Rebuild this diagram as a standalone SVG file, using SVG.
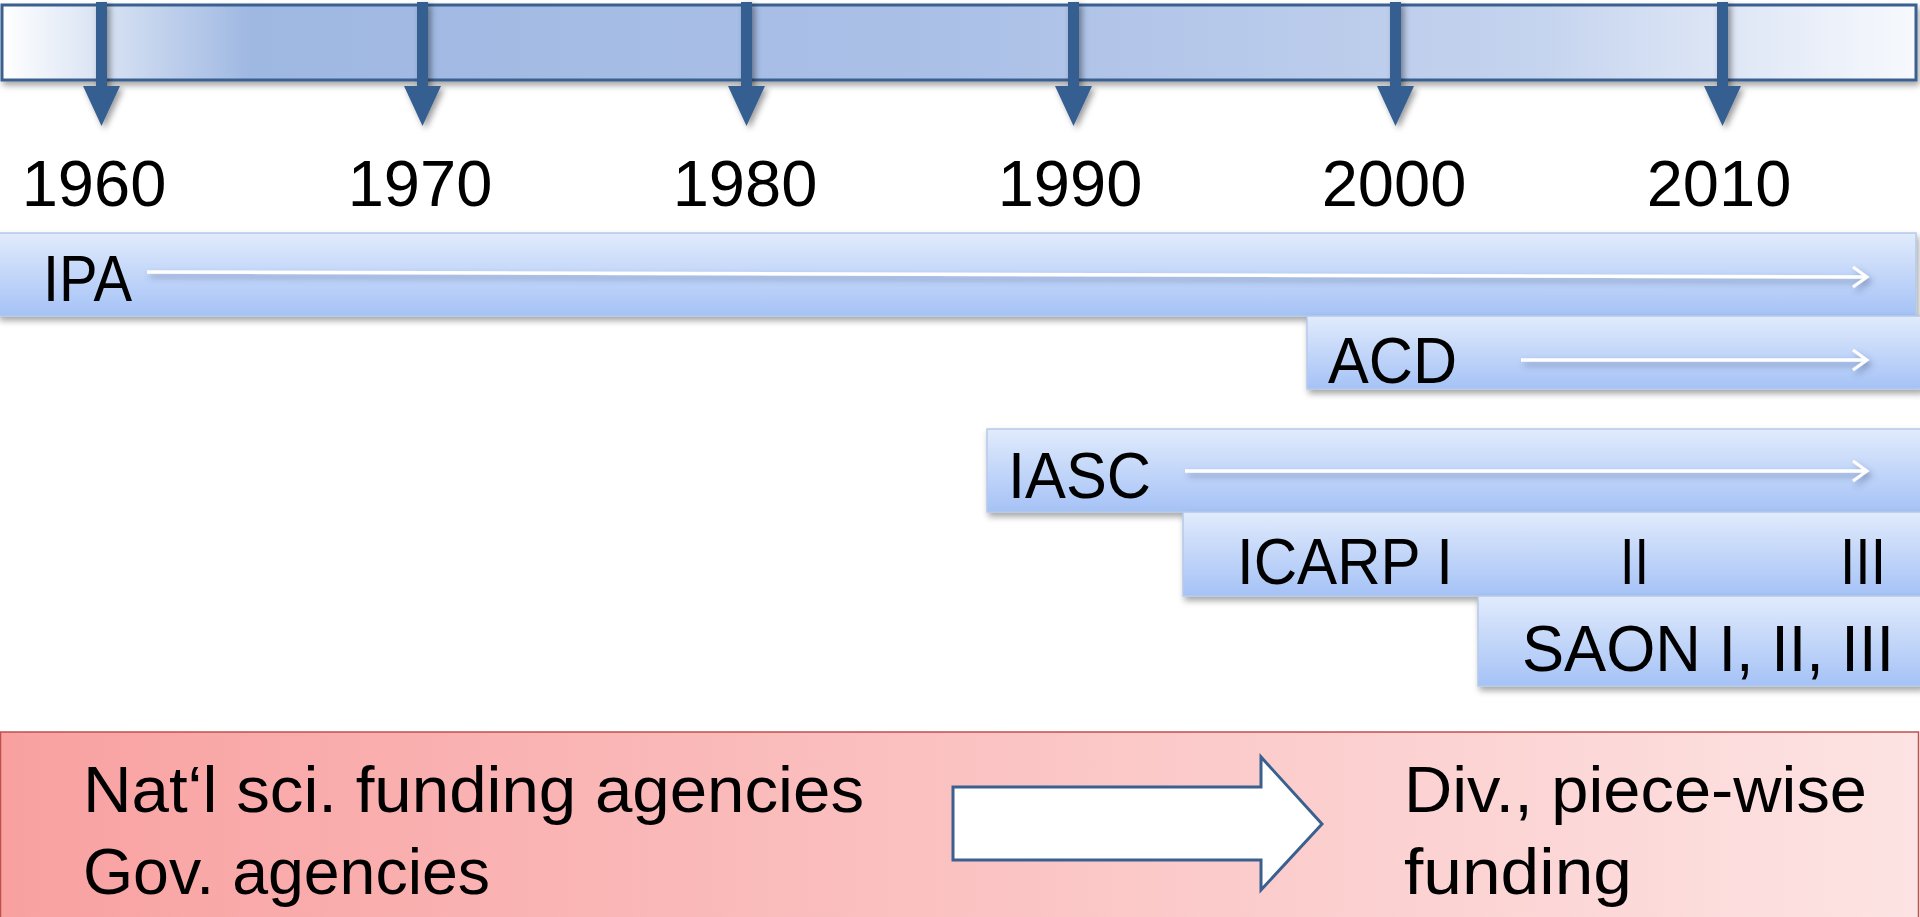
<svg xmlns="http://www.w3.org/2000/svg" width="1920" height="917" viewBox="0 0 1920 917">
<defs>
<linearGradient id="topg" x1="0" y1="0" x2="1" y2="0">
<stop offset="0" stop-color="#FFFFFF"/>
<stop offset="0.13" stop-color="#9FB8E2"/>
<stop offset="0.5" stop-color="#ABC0E7"/>
<stop offset="0.8" stop-color="#C4D3EE"/>
<stop offset="1" stop-color="#F7F9FD"/>
</linearGradient>
<linearGradient id="barg" x1="0" y1="0" x2="0" y2="1">
<stop offset="0" stop-color="#E1EBFC"/>
<stop offset="1" stop-color="#A5C2F6"/>
</linearGradient>
<linearGradient id="redg" x1="0" y1="0" x2="1" y2="0">
<stop offset="0" stop-color="#F9A1A1"/>
<stop offset="1" stop-color="#FDE3E3"/>
</linearGradient>
<filter id="sh" x="-5%" y="-20%" width="110%" height="150%">
<feDropShadow dx="2" dy="4" stdDeviation="3" flood-color="#000" flood-opacity="0.35"/>
</filter>
<filter id="ash" x="-50%" y="-20%" width="200%" height="150%">
<feDropShadow dx="3" dy="3" stdDeviation="3" flood-color="#000" flood-opacity="0.4"/>
</filter>
<filter id="lsh" filterUnits="userSpaceOnUse" x="0" y="0" width="1920" height="917">
<feDropShadow dx="3" dy="4" stdDeviation="3" flood-color="#3A4F7A" flood-opacity="0.45"/>
</filter>
<marker id="chev" markerWidth="20" markerHeight="24" refX="17" refY="12" orient="auto" markerUnits="userSpaceOnUse" viewBox="0 0 20 24">
<path d="M3,2 L17,12 L3,22" fill="none" stroke="#FFFFFF" stroke-width="3"/>
</marker>
<style>
.bar{fill:url(#barg);stroke:#B5C9E9;stroke-width:1.5;filter:url(#sh)}
.tick{fill:#365F91;filter:url(#ash)}
.yr{font-family:"Liberation Sans",Arial,sans-serif;font-size:65px;fill:#000;text-anchor:middle}
.lbl{font-family:"Liberation Sans",Arial,sans-serif;font-size:64px;fill:#000}
.fund{font-family:"Liberation Sans",Arial,sans-serif;font-size:64px;fill:#000}
.wl{stroke:#FFFFFF;stroke-width:3.5;fill:none;marker-end:url(#chev)}
</style>
</defs>
<rect width="1920" height="917" fill="#FFFFFF"/>

<g id="timeline">
<rect x="2" y="5" width="1914" height="75" fill="url(#topg)" stroke="#3A6090" stroke-width="3" filter="url(#sh)"/>
<g id="ticks">
<path class="tick" d="M96,2 h11 v84 h13 l-18.5,40 l-18.5,-40 h13 z"/>
<path class="tick" d="M417,2 h11 v84 h13 l-18.5,40 l-18.5,-40 h13 z"/>
<path class="tick" d="M741,2 h11 v84 h13 l-18.5,40 l-18.5,-40 h13 z"/>
<path class="tick" d="M1068,2 h11 v84 h13 l-18.5,40 l-18.5,-40 h13 z"/>
<path class="tick" d="M1390,2 h11 v84 h13 l-18.5,40 l-18.5,-40 h13 z"/>
<path class="tick" d="M1717,2 h11 v84 h13 l-18.5,40 l-18.5,-40 h13 z"/>
</g>
<text class="yr" x="94" y="206">1960</text>
<text class="yr" x="420" y="206">1970</text>
<text class="yr" x="745" y="206">1980</text>
<text class="yr" x="1070" y="206">1990</text>
<text class="yr" x="1394" y="206">2000</text>
<text class="yr" x="1719" y="206">2010</text>
</g>

<g id="ipa">
<rect class="bar" x="-2" y="233" width="1918" height="83"/>
<text class="lbl" x="43" y="301" textLength="89" lengthAdjust="spacingAndGlyphs">IPA</text>
</g>
<g id="acd">
<rect class="bar" x="1307" y="316" width="615" height="73"/>
<text class="lbl" x="1328" y="383" textLength="129" lengthAdjust="spacingAndGlyphs">ACD</text>
</g>
<g id="iasc">
<rect class="bar" x="987" y="429" width="935" height="83"/>
<text class="lbl" x="1008" y="498" textLength="143" lengthAdjust="spacingAndGlyphs">IASC</text>
</g>
<g id="icarp">
<rect class="bar" x="1183" y="512" width="739" height="84"/>
<text class="lbl" x="1237" y="584" textLength="216" lengthAdjust="spacingAndGlyphs">ICARP I</text>
<text class="lbl" x="1620" y="584" textLength="29" lengthAdjust="spacingAndGlyphs">II</text>
<text class="lbl" x="1840" y="584" textLength="46" lengthAdjust="spacingAndGlyphs">III</text>
</g>
<g id="saon">
<rect class="bar" x="1478" y="596" width="444" height="90"/>
<text class="lbl" x="1522" y="671" textLength="372" lengthAdjust="spacingAndGlyphs">SAON I, II, III</text>
</g>

<g id="connectors" filter="url(#lsh)">
<path class="wl" d="M147,272 L1867,277"/>
<path class="wl" d="M1521,360 L1867,360"/>
<path class="wl" d="M1185,471 L1867,471"/>
</g>

<g id="funding">
<rect x="0.5" y="732" width="1918" height="190" fill="url(#redg)" stroke="#C0504D" stroke-width="1.5"/>
<text class="fund" x="83" y="812" textLength="781" lengthAdjust="spacingAndGlyphs">Nat‘l sci. funding agencies</text>
<text class="fund" x="83" y="894" textLength="407" lengthAdjust="spacingAndGlyphs">Gov. agencies</text>
<path d="M953,787 H1261 V757 L1322,824 L1261,890 V860 H953 Z" fill="#FFFFFF" stroke="#3A6090" stroke-width="3"/>
<text class="fund" x="1404" y="812" textLength="463" lengthAdjust="spacingAndGlyphs">Div., piece-wise</text>
<text class="fund" x="1404" y="894" textLength="228" lengthAdjust="spacingAndGlyphs">funding</text>
</g>
</svg>
